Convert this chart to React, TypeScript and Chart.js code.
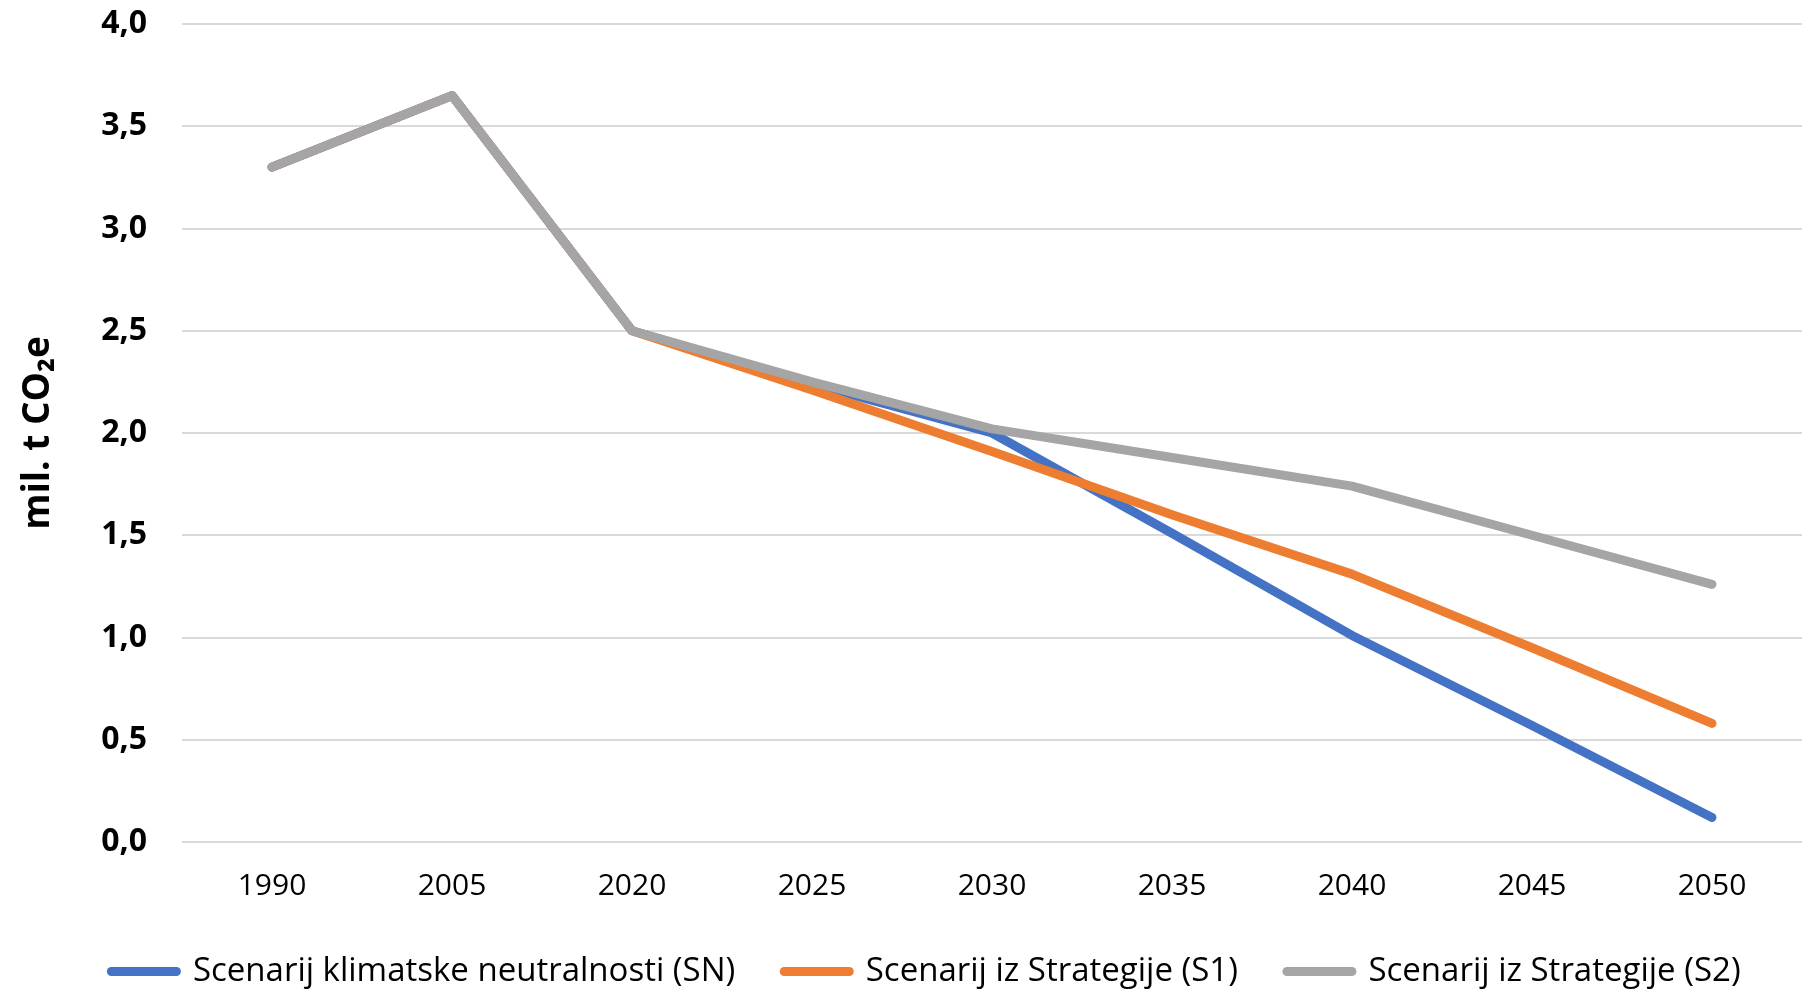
import React, { useEffect, useRef } from "react";
import { Chart, registerables } from "chart.js";

Chart.register(...registerables);

const years = ["1990", "2005", "2020", "2025", "2030", "2035", "2040", "2045", "2050"];
const snValues = [3.3, 3.65, 2.5, 2.24, 2.0, 1.51, 1.01, 0.57, 0.12];
const s1Values = [3.3, 3.65, 2.5, 2.21, 1.91, 1.6, 1.31, 0.95, 0.58];
const s2Values = [3.3, 3.65, 2.5, 2.25, 2.02, 1.88, 1.74, 1.5, 1.26];
const seriesNames = [
  "Scenarij klimatske neutralnosti (SN)",
  "Scenarij iz Strategije (S1)",
  "Scenarij iz Strategije (S2)",
];
const seriesColors = ["#4472C4", "#ED7D31", "#A5A5A5"];
const yAxisTitle = "mil. t CO₂e";
const yMin = 0;
const yMax = 4;
const yStep = 0.5;

const FONT = "'Open Sans', sans-serif";
const W = 1802;
const H = 998; // a few px taller than the viewport; bottom is cropped

export default function App() {
  const canvasRef = useRef<HTMLCanvasElement | null>(null);

  useEffect(() => {
    const canvas = canvasRef.current;
    if (!canvas) return;
    const values = [snValues, s1Values, s2Values];
    const chart = new Chart(canvas, {
      type: "line",
      data: {
        labels: years,
        datasets: values.map((v, i) => ({
          label: seriesNames[i],
          data: v,
          borderColor: seriesColors[i],
          backgroundColor: seriesColors[i],
          borderWidth: 9,
          borderCapStyle: "round",
          borderJoinStyle: "round",
          pointRadius: 0,
          pointHoverRadius: 0,
          tension: 0,
          fill: false,
          order: 2 - i,
        })),
      },
      options: {
        responsive: false,
        animation: false,
        layout: { padding: { left: 50, top: 24, right: 0, bottom: 0 } },
        plugins: {
          tooltip: { enabled: false },
          legend: {
            display: true,
            position: "bottom",
            labels: {
              usePointStyle: true,
              pointStyle: "line",
              pointStyleWidth: 65,
              padding: 49,
              color: "#000",
              font: { family: FONT, size: 33 },
              sort: (a: any, b: any) => a.datasetIndex - b.datasetIndex,
              generateLabels: (c: any) =>
                Chart.defaults.plugins.legend.labels
                  .generateLabels(c)
                  .map((item: any) => ({ ...item, lineCap: "round", lineWidth: 9 })),
            },
          },
        },
        scales: {
          x: {
            offset: true,
            grid: { display: false, drawTicks: false },
            border: { display: false },
            ticks: {
              color: "#000",
              padding: 26,
              font: { family: FONT, size: 30 },
              maxRotation: 0,
              autoSkip: false,
            },
            afterFit: (scale: any) => {
              scale.height = 64;
            },
          },
          y: {
            min: yMin,
            max: yMax,
            grid: {
              color: "#D9D9D9",
              lineWidth: 2,
              drawTicks: true,
              tickLength: 35,
              tickColor: "rgba(0,0,0,0)",
            },
            border: { display: false },
            ticks: {
              stepSize: yStep,
              color: "#000",
              padding: 0,
              font: { family: FONT, size: 32, weight: "bold" },
              callback: (v: any) => Number(v).toFixed(1).replace(".", ","),
            },
            title: {
              display: true,
              text: yAxisTitle,
              color: "#000",
              padding: { top: -34, bottom: 0 },
              font: { family: FONT, size: 37, weight: "bold" },
            },
            afterFit: (scale: any) => {
              scale.width = 132;
            },
          },
        },
      },
    });
    return () => chart.destroy();
  }, []);

  return (
    <div style={{ position: "fixed", left: 0, top: 0, width: W, height: 989, overflow: "hidden", background: "#fff" }}>
      <canvas ref={canvasRef} width={W} height={H} style={{ width: W, height: H, display: "block" }} />
    </div>
  );
}
